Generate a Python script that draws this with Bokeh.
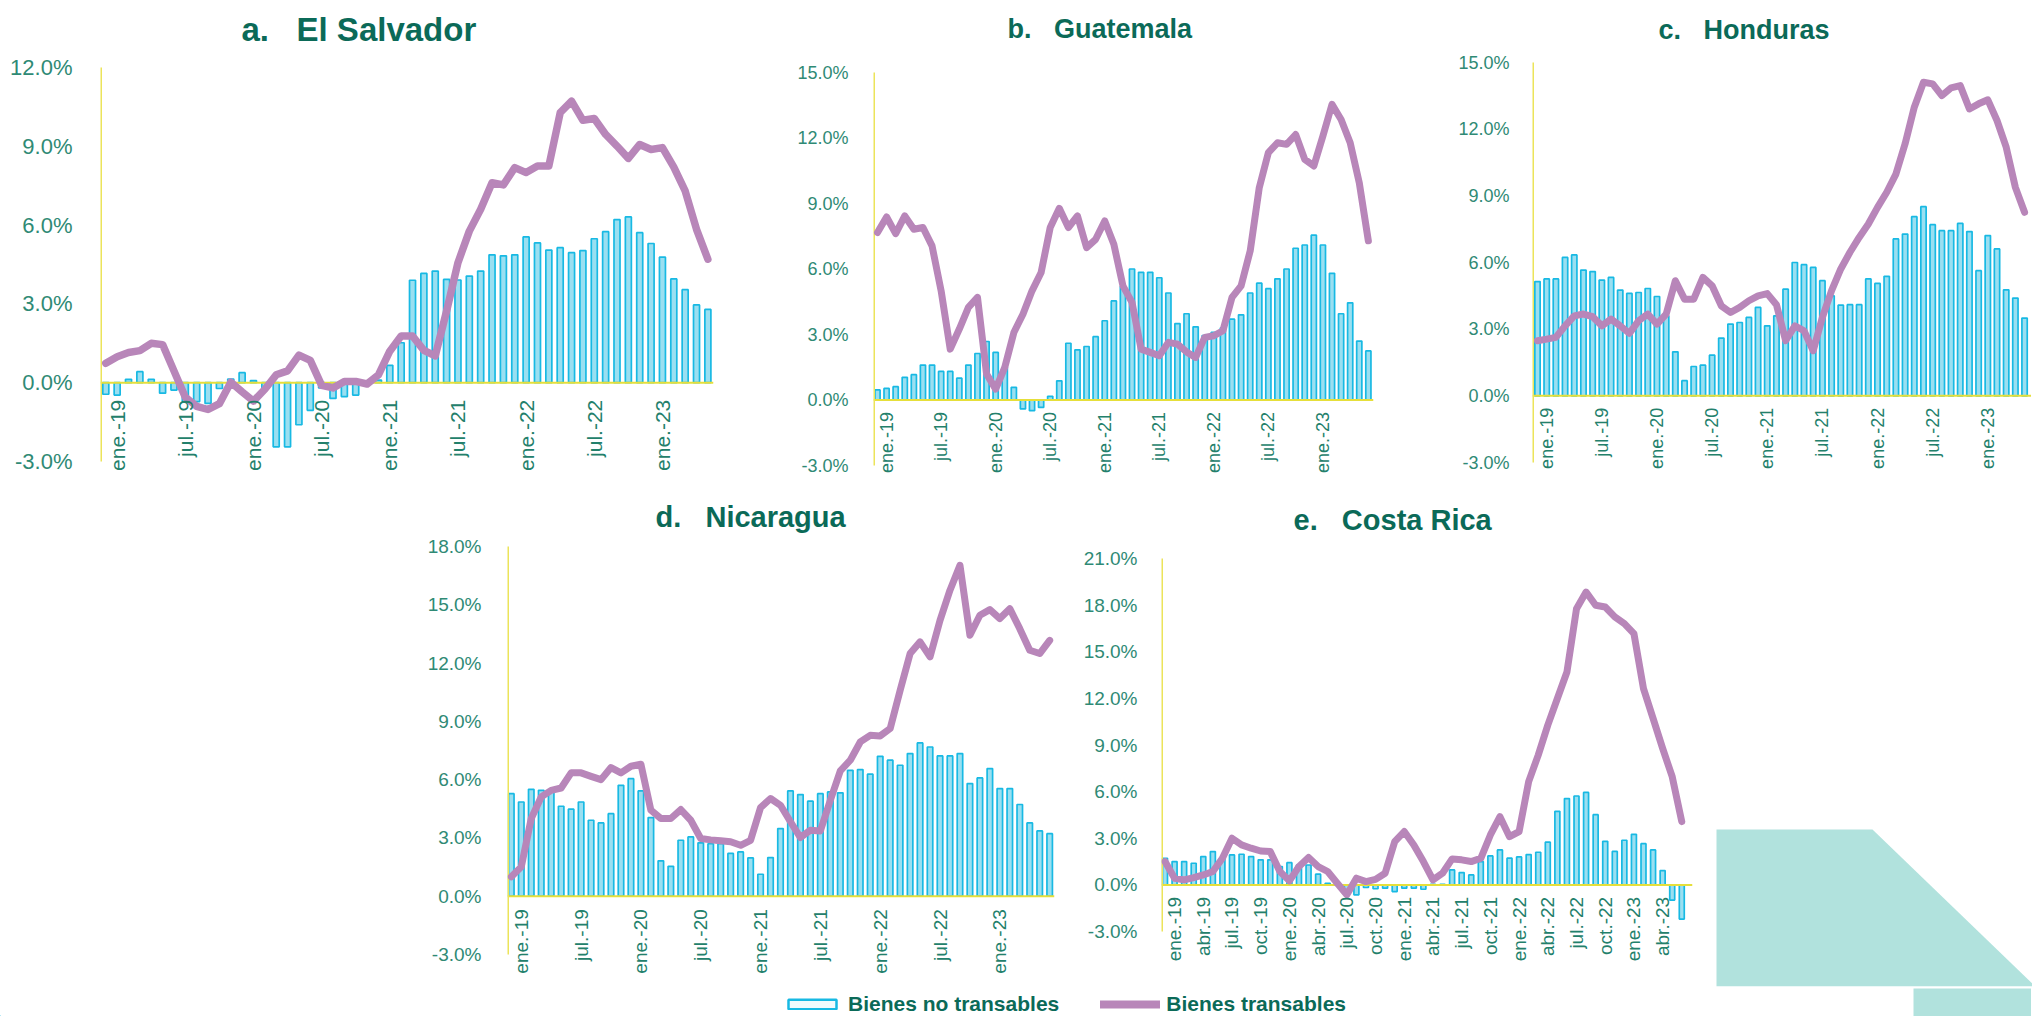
import math
from bokeh.plotting import figure
from bokeh.models import (Range1d, FixedTicker, PrintfTickFormatter, ColumnDataSource,
                          Legend, LegendItem, Spacer)
from bokeh.layouts import row, column
from bokeh.core.properties import value
from bokeh.embed import file_html
from bokeh.resources import INLINE

# ---------------- DATA ----------------
MONTH_ABBR = ["ene.", "feb.", "mar.", "abr.", "may.", "jun.",
              "jul.", "ago.", "sep.", "oct.", "nov.", "dic."]
months = ["dic.-18"] + [f"{m}-{y}" for y in ("19", "20", "21", "22", "23") for m in MONTH_ABBR][:54]

tick_labels_6m = ["ene.-19", "jul.-19", "ene.-20", "jul.-20", "ene.-21",
                  "jul.-21", "ene.-22", "jul.-22", "ene.-23"]
tick_labels_3m = ["ene.-19", "abr.-19", "jul.-19", "oct.-19", "ene.-20", "abr.-20",
                  "jul.-20", "oct.-20", "ene.-21", "abr.-21", "jul.-21", "oct.-21",
                  "ene.-22", "abr.-22", "jul.-22", "oct.-22", "ene.-23", "abr.-23"]

series_names = ["Bienes no transables", "Bienes transables"]

# El Salvador (dic.-18 .. may.-23)
sv_no_transables = [-0.44, -0.47, 0.13, 0.42, 0.13, -0.40, -0.28, -0.72, -0.72, -0.79,
                    -0.22, 0.14, 0.38, 0.08, -0.25, -2.44, -2.44, -1.60, -1.05, -0.20,
                    -0.60, -0.53, -0.47, -0.05, 0.10, 0.66, 1.52, 3.90, 4.16, 4.25,
                    3.93, 3.91, 4.06, 4.25, 4.87, 4.83, 4.87, 5.55, 5.32, 5.05,
                    5.14, 4.95, 5.03, 5.48, 5.75, 6.21, 6.31, 5.71, 5.30, 4.78,
                    3.95, 3.54, 2.96, 2.79]
sv_transables = [0.74, 0.99, 1.15, 1.22, 1.50, 1.45, 0.45, -0.55, -0.90, -1.02,
                 -0.80, 0.02, -0.35, -0.70, -0.25, 0.30, 0.45, 1.05, 0.85, -0.10,
                 -0.20, 0.05, 0.05, -0.05, 0.30, 1.20, 1.78, 1.78, 1.23, 1.02,
                 2.73, 4.57, 5.77, 6.60, 7.61, 7.53, 8.19, 8.00, 8.25, 8.25,
                 10.28, 10.72, 9.99, 10.06, 9.45, 9.01, 8.54, 9.07, 8.88, 8.95,
                 8.21, 7.30, 5.84, 4.70]

# Guatemala (dic.-18 .. jun.-23)
gt_no_transables = [0.46, 0.53, 0.61, 1.04, 1.16, 1.60, 1.60, 1.31, 1.31, 1.00,
                    1.60, 2.13, 2.68, 2.18, 1.50, 0.58, -0.41, -0.49, -0.34, 0.17,
                    0.88, 2.60, 2.30, 2.45, 2.90, 3.63, 4.54, 5.20, 6.00, 5.85,
                    5.85, 5.60, 4.90, 3.50, 3.95, 3.35, 2.95, 3.10, 3.30, 3.70,
                    3.90, 4.90, 5.35, 5.10, 5.55, 6.00, 6.95, 7.10, 7.55, 7.10,
                    5.80, 3.95, 4.45, 2.70, 2.25]
gt_transables = [7.67, 8.38, 7.62, 8.43, 7.82, 7.90, 7.06, 5.00, 2.33, 3.25,
                 4.24, 4.70, 1.19, 0.50, 1.49, 3.09, 3.93, 5.00, 5.84, 7.90,
                 8.78, 7.90, 8.43, 6.98, 7.36, 8.20, 7.13, 5.23, 4.47, 2.33,
                 2.18, 2.03, 2.64, 2.56, 2.20, 1.95, 2.87, 2.94, 3.17, 4.70,
                 5.23, 6.83, 9.73, 11.33, 11.78, 11.71, 12.16, 11.02, 10.72, 12.09,
                 13.54, 12.85, 11.78, 9.95, 7.29]

# Honduras (dic.-18 .. may.-23, right part cut off in the original)
hn_no_transables = [5.14, 5.26, 5.26, 6.23, 6.34, 5.66, 5.59, 5.21, 5.33, 4.76,
                    4.61, 4.65, 4.83, 4.47, 3.60, 1.98, 0.68, 1.32, 1.38, 1.83,
                    2.60, 3.23, 3.30, 3.53, 3.98, 3.15, 3.60, 4.80, 6.00, 5.90,
                    5.78, 5.18, 4.50, 4.08, 4.10, 4.10, 5.26, 5.06, 5.38, 7.06,
                    7.28, 8.06, 8.51, 7.70, 7.43, 7.43, 7.76, 7.39, 5.63, 7.21,
                    6.61, 4.77, 4.40, 3.50]
hn_transables = [2.48, 2.55, 2.63, 3.15, 3.60, 3.68, 3.56, 3.15, 3.45, 3.15,
                 2.81, 3.38, 3.68, 3.23, 3.68, 5.18, 4.35, 4.35, 5.33, 4.95,
                 4.05, 3.75, 3.98, 4.28, 4.50, 4.60, 4.10, 2.48, 3.15, 2.93,
                 2.03, 3.53, 4.73, 5.71, 6.46, 7.13, 7.73, 8.48, 9.16, 9.98,
                 11.34, 12.99, 14.11, 14.04, 13.51, 13.86, 13.96, 12.91, 13.14, 13.32,
                 12.39, 11.19, 9.38, 8.26]

# Nicaragua (dic.-18 .. jun.-23)
ni_no_transables = [5.28, 4.85, 5.50, 5.45, 5.37, 4.63, 4.48, 4.85, 3.91, 3.77,
                    4.25, 5.71, 6.05, 5.42, 4.05, 1.82, 1.54, 2.88, 3.05, 2.75,
                    2.70, 2.70, 2.20, 2.28, 1.97, 1.13, 1.99, 3.48, 5.42, 5.23,
                    4.89, 5.28, 5.37, 5.32, 6.48, 6.52, 6.28, 7.20, 7.00, 6.74,
                    7.34, 7.89, 7.68, 7.22, 7.22, 7.34, 5.80, 6.09, 6.57, 5.54,
                    5.54, 4.72, 3.77, 3.36, 3.22]
ni_transables = [1.00, 1.51, 4.00, 5.11, 5.45, 5.57, 6.35, 6.35, 6.17, 6.00,
                 6.62, 6.35, 6.69, 6.79, 4.43, 4.00, 4.00, 4.46, 3.91, 2.97,
                 2.90, 2.85, 2.80, 2.62, 2.88, 4.56, 5.03, 4.68, 3.83, 3.02,
                 3.40, 3.36, 4.94, 6.45, 7.00, 7.94, 8.28, 8.25, 8.63, 10.60,
                 12.49, 13.09, 12.32, 14.20, 15.75, 17.03, 13.43, 14.46, 14.75, 14.29,
                 14.80, 13.77, 12.66, 12.49, 13.17]

# Costa Rica (dic.-18 .. jun.-23)
cr_no_transables = [1.71, 1.50, 1.50, 1.39, 1.82, 2.14, 1.76, 1.93, 1.97, 1.82,
                    1.61, 1.61, 1.18, 1.43, 1.28, 1.28, 0.69, 0.10, 0.00, -0.64,
                    -0.64, -0.17, -0.25, -0.21, -0.43, -0.21, -0.21, -0.28, 0.04, 0.04,
                    0.96, 0.79, 0.64, 1.50, 1.86, 2.25, 1.72, 1.80, 1.95, 2.10,
                    2.75, 4.73, 5.55, 5.72, 5.95, 4.52, 2.80, 2.15, 2.87, 3.25,
                    2.65, 2.25, 0.92, -0.98, -2.20]
cr_transables = [1.50, 0.43, 0.32, 0.47, 0.64, 0.86, 1.71, 3.00, 2.57, 2.36,
                 2.18, 2.14, 0.86, 0.26, 1.18, 1.76, 1.18, 0.86, 0.11, -0.64,
                 0.43, 0.21, 0.35, 0.75, 2.78, 3.43, 2.57, 1.50, 0.32, 0.75,
                 1.67, 1.61, 1.50, 1.71, 3.21, 4.39, 3.10, 3.43, 6.64, 8.35,
                 10.28, 11.99, 13.70, 17.77, 18.84, 17.99, 17.88, 17.24, 16.81, 16.17,
                 12.63, 10.71, 8.78, 6.96, 4.07]

# ---------------- STYLE ----------------
FONT = "Liberation Sans"
TITLE_COLOR = "#0b6a58"
YLAB_COLOR = "#2f8a75"
XLAB_COLOR = "#23806b"
BAR_FILL = "#9adff1"
BAR_LINE = "#18b9e3"
LINE_COLOR = "#b886b9"
YELLOW = "#e6df3a"
AXIS_YELLOW = "#ece45a"
TEAL_DECO = "#b1e2dd"
NB = "\u00a0"
PAGE_W = 2031
PAGE_H = 1016

# rows: common frame top / bottom (page px) inside each row
ROW1 = dict(fig_top=0, fig_bottom=488, frame_top=55, frame_bottom=486)
ROW2 = dict(fig_top=488, fig_bottom=988, frame_top=540, frame_bottom=986)
TITLE_K = 0.55

charts = [
    dict(key="a", title=f"a.{NB*3}El Salvador", bars=sv_no_transables, line=sv_transables,
         ticks=tick_labels_6m, rowg=ROW1, fig_left=0, fig_right=760,
         frame_left=100, frame_right=713, x0=105.3, dx=11.36,
         ytop=12, ytop_px=67, ym3_px=461,
         title_size=33, title_off=141, title_center=29, ysize=22, xsize=21, ystand=22, xgap=17,
         bar_w=0.53, line_w=7.5),
    dict(key="b", title=f"b.{NB*3}Guatemala", bars=gt_no_transables, line=gt_transables,
         ticks=tick_labels_6m, rowg=ROW1, fig_left=760, fig_right=1400,
         frame_left=873, frame_right=1373, x0=877, dx=9.09,
         ytop=15, ytop_px=72, ym3_px=465,
         title_size=27, title_off=134, title_center=29, ysize=18, xsize=18, ystand=19, xgap=12,
         bar_w=0.57, line_w=7),
    dict(key="c", title=f"c.{NB*3}Honduras", bars=hn_no_transables, line=hn_transables,
         ticks=tick_labels_6m, rowg=ROW1, fig_left=1400, fig_right=PAGE_W,
         frame_left=1532, frame_right=PAGE_W, x0=1537, dx=9.19,
         ytop=15, ytop_px=62, ym3_px=462,
         title_size=27, title_off=126, title_center=30, ysize=18, xsize=18, ystand=17, xgap=12,
         bar_w=0.58, line_w=7),
    dict(key="d", title=f"d.{NB*3}Nicaragua", bars=ni_no_transables, line=ni_transables,
         ticks=tick_labels_6m, rowg=ROW2, fig_left=420, fig_right=1080,
         frame_left=507, frame_right=1054, x0=510.8, dx=9.97,
         ytop=18, ytop_px=546, ym3_px=954,
         title_size=29, title_off=148, title_center=516.5, ysize=19, xsize=19, ystand=20, xgap=13,
         bar_w=0.55, line_w=7),
    dict(key="e", title=f"e.{NB*3}Costa Rica", bars=cr_no_transables, line=cr_transables,
         ticks=tick_labels_3m, rowg=ROW2, fig_left=1080, fig_right=1700,
         frame_left=1159, frame_right=1690, x0=1162.5, dx=9.57,
         ytop=21, ytop_px=558, ym3_px=931,
         title_size=29, title_off=132, title_center=519.5, ysize=19, xsize=19, ystand=18, xgap=12,
         bar_w=0.52, line_w=7),
]


def make_chart(c):
    g = c["rowg"]
    fw = c["frame_right"] - c["frame_left"]
    fh = g["frame_bottom"] - g["frame_top"]
    bl = c["frame_left"] - c["fig_left"]
    br = c["fig_right"] - c["frame_right"]
    bt = g["frame_top"] - g["fig_top"]
    bb = g["fig_bottom"] - g["frame_bottom"]
    xs = (c["frame_left"] - c["x0"]) / c["dx"]
    xe = (c["frame_right"] - c["x0"]) / c["dx"]
    ppu = (c["ym3_px"] - c["ytop_px"]) / (c["ytop"] + 3.0)
    ye = c["ytop"] + (c["ytop_px"] - g["frame_top"]) / ppu
    ys = -3.0 - (g["frame_bottom"] - c["ym3_px"]) / ppu

    p = figure(frame_width=fw, frame_height=fh,
               min_border_left=bl, min_border_right=br, min_border_top=bt, min_border_bottom=bb,
               x_range=Range1d(xs, xe), y_range=Range1d(ys, ye),
               x_axis_location=None, toolbar_location=None, output_backend="svg",
               outline_line_color=None, background_fill_color="white", border_fill_color="white")
    p.xgrid.visible = False
    p.ygrid.visible = False

    ax = p.yaxis[0]
    ax.ticker = FixedTicker(ticks=list(range(-3, c["ytop"] + 1, 3)))
    ax.formatter = PrintfTickFormatter(format="%.1f%%")
    ax.axis_line_color = None
    ax.major_tick_line_color = None
    ax.minor_tick_line_color = None
    ax.major_label_standoff = c["ystand"]
    ax.major_label_text_font = FONT
    ax.major_label_text_font_size = f'{c["ysize"]}px'
    ax.major_label_text_color = YLAB_COLOR

    n = len(c["bars"])
    src = ColumnDataSource(dict(x=list(range(n)), nt=c["bars"], t=c["line"][:n]))
    p.vbar(x="x", top="nt", bottom=0, width=c["bar_w"], source=src,
           fill_color=BAR_FILL, line_color=BAR_LINE, line_width=1.7)
    # zero line and vertical axis line (from -3% up to the top tick)
    p.segment(x0=[xs], x1=[xe], y0=[0], y1=[0], line_color=YELLOW, line_width=2)
    p.segment(x0=[xs], x1=[xs], y0=[-3], y1=[c["ytop"]], line_color=AXIS_YELLOW, line_width=3)
    p.line(x="x", y="t", source=src, line_color=LINE_COLOR, line_width=c["line_w"],
           line_join="round", line_cap="round")

    # category labels hanging below the zero line
    tick_idx = [months.index(t) for t in c["ticks"]]
    p.text(x=tick_idx, y=[0] * len(tick_idx), text=c["ticks"], angle=math.pi / 2,
           text_align="right", text_baseline="middle", y_offset=c["xgap"],
           text_font=value(FONT), text_font_size=f'{c["xsize"]}px', text_color=XLAB_COLOR)

    p.title.text = c["title"]
    p.title.align = "left"
    p.title.offset = c["title_off"]
    p.title.standoff = max(0.0, 2 * (g["frame_top"] - c["title_center"] - TITLE_K * c["title_size"]))
    p.title.text_font = FONT
    p.title.text_font_style = "bold"
    p.title.text_font_size = f'{c["title_size"]}px'
    p.title.text_color = TITLE_COLOR
    return p


figs = {c["key"]: make_chart(c) for c in charts}

row2_h = ROW2["fig_bottom"] - ROW2["fig_top"]
deco_w = PAGE_W - 1700

# decorative teal shape at the bottom right (local pixel coordinates, y downwards)
deco = figure(width=deco_w, height=row2_h, x_range=Range1d(0, deco_w), y_range=Range1d(row2_h, 0),
              x_axis_location=None, y_axis_location=None, toolbar_location=None,
              output_backend="svg", min_border=0, outline_line_color=None)
deco.xgrid.visible = False
deco.ygrid.visible = False
deco.patch(x=[14, 170, deco_w, deco_w, 14], y=[324, 324, 498, row2_h, row2_h],
           fill_color=TEAL_DECO, line_color=None)

# legend strip
leg_h = PAGE_H - ROW2["fig_bottom"]
leg = figure(width=PAGE_W, height=leg_h, x_range=Range1d(0, PAGE_W), y_range=Range1d(0, leg_h),
             x_axis_location=None, y_axis_location=None, toolbar_location=None,
             output_backend="svg", min_border=0, outline_line_color=None)
leg.xgrid.visible = False
leg.ygrid.visible = False
leg.quad(left=[1913], right=[PAGE_W], bottom=[0], top=[leg_h + 1], fill_color=TEAL_DECO, line_color=None)
proxy = ColumnDataSource(dict(x=[-500.0], y=[-500.0]))  # outside the strip: legend swatches only
r_bar = leg.vbar(x="x", top="y", width=0.5, source=proxy, fill_color="#f2fbfd",
                 line_color=BAR_LINE, line_width=2.5)
r_line = leg.line(x="x", y="y", source=proxy, line_color=LINE_COLOR, line_width=8, line_cap="round")
legend = Legend(items=[LegendItem(label=series_names[0], renderers=[r_bar]),
                       LegendItem(label=series_names[1], renderers=[r_line])],
                orientation="horizontal", location=(782, 0), glyph_width=60, glyph_height=12,
                label_standoff=6, spacing=41, padding=0, margin=0,
                border_line_color=None, background_fill_alpha=0,
                label_text_font=FONT, label_text_font_style="bold",
                label_text_font_size="21px", label_text_color=TITLE_COLOR)
leg.add_layout(legend, "center")

layout = column(
    row(figs["a"], figs["b"], figs["c"]),
    row(Spacer(width=420, height=row2_h), figs["d"], figs["e"], deco),
    leg,
)

open("out.html", "w").write(file_html(layout, INLINE))
